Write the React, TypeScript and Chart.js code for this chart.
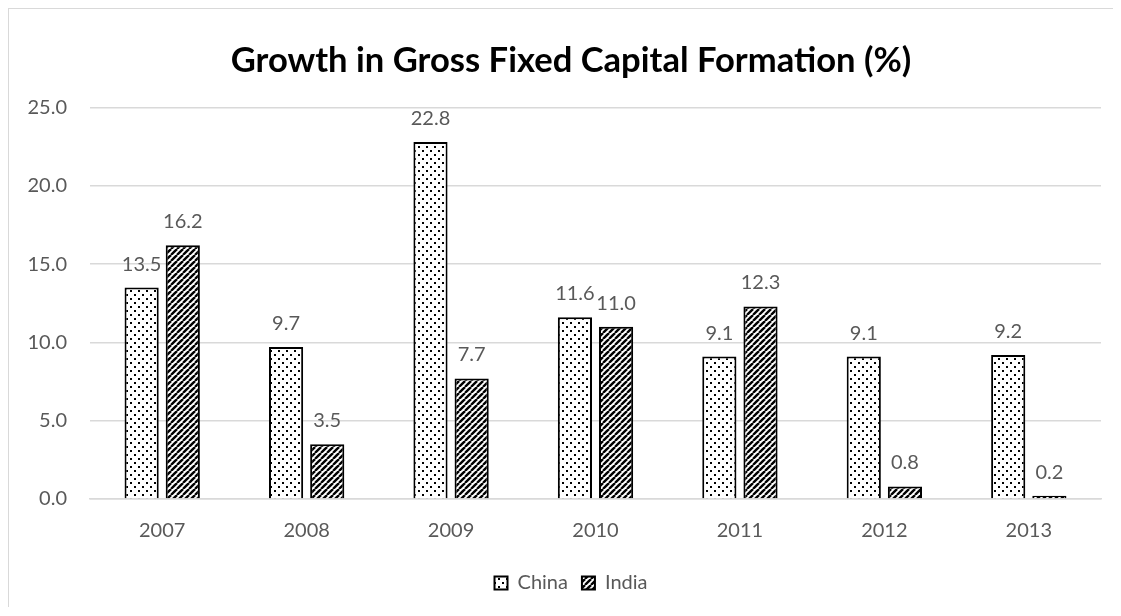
import React, { useEffect, useRef } from "react";
import { Chart, registerables } from "chart.js";

Chart.register(...registerables);

const years = ["2007", "2008", "2009", "2010", "2011", "2012", "2013"];
const chinaValues = [13.5, 9.7, 22.8, 11.6, 9.1, 9.1, 9.2];
const indiaValues = [16.2, 3.5, 7.7, 11.0, 12.3, 0.8, 0.2];
const yTicks = [0, 5, 10, 15, 20, 25];
const titleText = "Growth in Gross Fixed Capital Formation (%)";

const FONT = "Lato, 'Open Sans', sans-serif";

function dotPattern(): CanvasPattern | string {
  const c = document.createElement("canvas");
  c.width = 8;
  c.height = 8;
  const ctx = c.getContext("2d");
  if (!ctx) return "#fff";
  ctx.fillStyle = "#fff";
  ctx.fillRect(0, 0, 8, 8);
  ctx.fillStyle = "#000";
  ctx.fillRect(1, 1, 2, 2);
  ctx.fillRect(5, 5, 2, 2);
  return ctx.createPattern(c, "repeat") || "#fff";
}

function stripePattern(): CanvasPattern | string {
  const s = 6;
  const c = document.createElement("canvas");
  c.width = s;
  c.height = s;
  const ctx = c.getContext("2d");
  if (!ctx) return "#000";
  ctx.fillStyle = "#fff";
  ctx.fillRect(0, 0, s, s);
  ctx.strokeStyle = "#000";
  ctx.lineWidth = 2.4;
  for (const o of [-s, 0, s]) {
    ctx.beginPath();
    ctx.moveTo(o, s);
    ctx.lineTo(o + s, 0);
    ctx.stroke();
  }
  return ctx.createPattern(c, "repeat") || "#000";
}

const valueLabels = {
  id: "valueLabels",
  afterDatasetsDraw(chart: any) {
    const ctx = chart.ctx;
    ctx.save();
    ctx.font = `20px ${FONT}`;
    ctx.fillStyle = "#595959";
    ctx.textAlign = "center";
    ctx.textBaseline = "alphabetic";
    chart.data.datasets.forEach((ds: any, i: number) => {
      const meta = chart.getDatasetMeta(i);
      meta.data.forEach((el: any, j: number) => {
        const v = ds.data[j] as number;
        ctx.fillText(v.toFixed(1), el.x, el.y - 17);
      });
    });
    ctx.restore();
  },
};

// shift title and legend so they are centred like the original
const centreShift = {
  id: "centreShift",
  afterLayout(chart: any) {
    const dx = 16;
    if (chart.titleBlock) {
      chart.titleBlock.left += dx;
      chart.titleBlock.right += dx;
    }
    if (chart.legend) {
      chart.legend.left += dx;
      chart.legend.right += dx;
    }
  },
};

export default function App() {
  const ref = useRef<HTMLCanvasElement>(null);
  useEffect(() => {
    if (!ref.current) return;
    document.body.style.overflow = "hidden";
    const chart = new Chart(ref.current, {
      type: "bar",
      data: {
        labels: years,
        datasets: [
          {
            label: "China",
            data: chinaValues,
            backgroundColor: dotPattern() as any,
            borderColor: "#000",
            borderWidth: 2,
            categoryPercentage: 0.57,
            barPercentage: 0.83,
          },
          {
            label: "India",
            data: indiaValues,
            backgroundColor: stripePattern() as any,
            borderColor: "#000",
            borderWidth: 2,
            categoryPercentage: 0.57,
            barPercentage: 0.83,
          },
        ],
      },
      options: {
        animation: false,
        responsive: false,
        maintainAspectRatio: false,
        layout: { padding: { left: 0, right: 12, top: 0, bottom: 4 } },
        plugins: {
          title: {
            display: true,
            text: titleText,
            color: "#000",
            font: { family: FONT, size: 34.6, weight: "bold" },
            padding: { top: 31, bottom: 26 },
          },
          legend: {
            position: "bottom",
            labels: {
              color: "#595959",
              font: { family: FONT, size: 20 },
              boxWidth: 13,
              boxHeight: 13,
              padding: 14,
            },
          },
          tooltip: { enabled: false },
        },
        scales: {
          x: {
            grid: { display: false },
            border: { display: true, color: "#d9d9d9", width: 1.5 },
            ticks: { color: "#595959", font: { family: FONT, size: 20 }, padding: 12 },
            afterFit: (s: any) => {
              s.height = 60;
            },
          },
          y: {
            min: 0,
            max: 25,
            afterBuildTicks: (s: any) => {
              s.ticks = yTicks.map((v) => ({ value: v }));
            },
            grid: { color: "#d9d9d9", lineWidth: 1.5, drawTicks: false },
            border: { display: false },
            ticks: {
              color: "#595959",
              font: { family: FONT, size: 20 },
              padding: 23,
              callback: (v: any) => Number(v).toFixed(1),
            },
            afterFit: (s: any) => {
              s.width = 81;
            },
          },
        },
      },
      plugins: [valueLabels, centreShift],
    });
    return () => chart.destroy();
  }, []);
  return (
    <div
      style={{
        width: 1104,
        height: 598,
        borderLeft: "1px solid #d9d9d9",
        borderTop: "1px solid #d9d9d9",
      }}
    >
      <canvas ref={ref} width={1104} height={598} style={{ display: "block" }} />
    </div>
  );
}
